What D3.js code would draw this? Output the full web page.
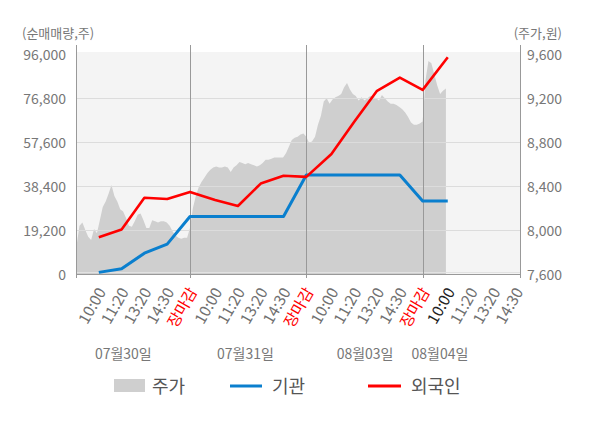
<!DOCTYPE html>
<html><head><meta charset="utf-8">
<script src="https://cdn.jsdelivr.net/npm/d3@7"></script>
<style>
body{margin:0;background:#fff}
svg{display:block}
text{font-family:"Noto Sans CJK KR","Noto Sans",sans-serif}
</style>
</head><body>
<svg id="c" width="600" height="428"></svg>
<script>
// ---------------- data ----------------
const dates = ['07월30일', '07월31일', '08월03일', '08월04일'];
const timeLabels = ['10:00', '11:20', '13:20', '14:30', '장마감'];
const volTicks = [0, 19200, 38400, 57600, 76800, 96000];
const priceTicks = [7600, 8000, 8400, 8800, 9200, 9600];

// 주가 (price) sampled 40 times per trading day
const priceDay1 = [7750, 7860, 8040, 8070, 8000, 7940, 7910, 8010, 7970, 8090, 8210, 8260, 8330, 8410, 8310, 8260, 8190, 8170, 8110, 8040, 8030, 8080, 8140, 8150, 8090, 8020, 8020, 8090, 8080, 8070, 8080, 8080, 8070, 8040, 7990, 7950, 7930, 7920, 7930, 7930, 8020];
const priceDay2 = [8200, 8310, 8390, 8440, 8480, 8520, 8550, 8570, 8580, 8570, 8570, 8580, 8570, 8530, 8570, 8590, 8620, 8610, 8600, 8610, 8600, 8590, 8580, 8590, 8610, 8640, 8640, 8650, 8660, 8660, 8660, 8660, 8700, 8760, 8820, 8840, 8850, 8870, 8880, 8850];
const priceDay3 = [8790, 8810, 8850, 8960, 9040, 9170, 9200, 9150, 9190, 9210, 9220, 9240, 9300, 9340, 9280, 9240, 9220, 9180, 9210, 9180, 9200, 9220, 9210, 9200, 9180, 9230, 9200, 9170, 9150, 9150, 9140, 9120, 9100, 9070, 9030, 8980, 8960, 8960, 8970, 8990];
const priceDay4 = [9370, 9540, 9520, 9420, 9320, 9240, 9270, 9290];

// 순매매량 at each time slot (10:00, 11:20, 13:20, 14:30, 장마감 ...)
const institution = [710, 2330, 9100, 13040, 25170, 25170, 25170, 25170, 25170, 43270, 43270, 43270, 43270, 43270, 31950, 31950];
const foreignVol = [16070, 19410, 33360, 32760, 35890, 32350, 29720, 39530, 42970, 42460, 52470, 66520, 80070, 85830, 80480, 94730];

const SAMPLES_PER_DAY = 40;

// ---------------- layout ----------------
const svg = d3.select('#c');
const L = 76, R = 520, T = 52, B = 274;
const x = d3.scaleLinear().domain([0.02, 3.837]).range([L, R]);
const yVol = d3.scaleLinear().domain([0, 96000]).range([B, 54.4]);
const yPrice = d3.scaleLinear().domain([7600, 9600]).range([B, 54.4]);

const price = [];
[priceDay1, priceDay2, priceDay3, priceDay4].forEach((arr, day) => {
  arr.forEach((v, i) => {
    const idx = day === 0 ? i : i + 1;
    price.push({ d: day + idx / SAMPLES_PER_DAY, v });
  });
});

const slots = [];
for (let day = 0; day < 4; day++) {
  for (let j = 0; j < 5; j++) {
    const d = day + 0.02 + 0.196 * (j + 1);
    if (d <= 3.837) slots.push({ day, j, d });
  }
}

svg.append('defs').append('clipPath').attr('id', 'plotClip')
  .append('rect').attr('x', L).attr('y', T).attr('width', R - L).attr('height', B - T);

// background
svg.append('rect').attr('x', L).attr('y', T).attr('width', R - L).attr('height', B - T).attr('fill', '#f4f4f4');

// price area
svg.append('path')
  .datum(price)
  .attr('clip-path', 'url(#plotClip)')
  .attr('fill', '#cfcfcf')
  .attr('d', d3.area().x(p => x(p.d)).y0(yPrice(7600)).y1(p => yPrice(p.v)));

// gridlines
svg.append('g').selectAll('line').data(volTicks.filter(v => v > 0 && v < 96000)).join('line')
  .attr('x1', L).attr('x2', R)
  .attr('y1', v => Math.round(yVol(v)) + 0.5).attr('y2', v => Math.round(yVol(v)) + 0.5)
  .attr('stroke', '#dcdcdc').attr('stroke-width', 1);

// bottom lines
svg.append('line').attr('x1', L).attr('x2', R).attr('y1', 272.5).attr('y2', 272.5).attr('stroke', '#e2e2e2');
svg.append('line').attr('x1', L).attr('x2', R).attr('y1', 274.5).attr('y2', 274.5).attr('stroke', '#999');

// vertical lines: axes and day separators
const vlines = [L, x(1), x(2), x(3), R];
svg.append('g').selectAll('line').data(vlines).join('line')
  .attr('x1', v => Math.round(v) + 0.5).attr('x2', v => Math.round(v) + 0.5)
  .attr('y1', 45).attr('y2', 278)
  .attr('stroke', '#999').attr('stroke-width', 1);

// series lines
const lineGen = d3.line().x((v, i) => x(slots[i].d)).y(v => yVol(v));
svg.append('path').datum(institution)
  .attr('fill', 'none').attr('stroke', '#0a7fce').attr('stroke-width', 3)
  .attr('stroke-linejoin', 'round').attr('d', lineGen);
svg.append('path').datum(foreignVol)
  .attr('fill', 'none').attr('stroke', '#ff0000').attr('stroke-width', 2.6)
  .attr('stroke-linejoin', 'round').attr('d', lineGen);

// left axis labels
const fmt = d3.format(',');
svg.append('g').selectAll('text').data(volTicks).join('text')
  .attr('x', 66).attr('y', v => yVol(v) + 5.5)
  .attr('text-anchor', 'end').attr('font-size', 14).attr('fill', '#777')
  .text(v => fmt(v));
// right axis labels
svg.append('g').selectAll('text').data(priceTicks).join('text')
  .attr('x', 527).attr('y', v => yPrice(v) + 5.5)
  .attr('text-anchor', 'start').attr('font-size', 14).attr('fill', '#777')
  .text(v => fmt(v));

// axis titles
svg.append('text').attr('x', 22).attr('y', 38).attr('font-size', 13).attr('fill', '#777').text('(순매매량,주)');
svg.append('text').attr('x', 562).attr('y', 38).attr('text-anchor', 'end').attr('font-size', 13).attr('fill', '#777').text('(주가,원)');

// x tick labels
svg.append('g').selectAll('text').data(slots).join('text')
  .attr('transform', s => `translate(${x(s.d) + 3},289) rotate(-60)`)
  .attr('text-anchor', 'end').attr('dy', '0.35em')
  .attr('font-size', 15.5)
  .attr('fill', s => s.j === 4 ? '#ff0000' : (s.day === 3 && s.j === 0 ? '#222' : '#707070'))
  .text(s => timeLabels[s.j]);

// date labels
const dateOffset = [0.427, 0.477, 0.505, 0.149];
svg.append('g').selectAll('text').data(dates).join('text')
  .attr('x', (t, i) => x(i + dateOffset[i])).attr('y', 359)
  .attr('text-anchor', 'middle').attr('font-size', 14).attr('fill', '#777')
  .text(t => t);

// legend
const lg = svg.append('g');
lg.append('rect').attr('x', 114).attr('y', 379).attr('width', 31).attr('height', 13).attr('fill', '#cfcfcf');
lg.append('text').attr('x', 152).attr('y', 392.5).attr('font-size', 18).attr('fill', '#555').text('주가');
lg.append('line').attr('x1', 230).attr('x2', 262).attr('y1', 386).attr('y2', 386).attr('stroke', '#0a7fce').attr('stroke-width', 3);
lg.append('text').attr('x', 272).attr('y', 392.5).attr('font-size', 18).attr('fill', '#555').text('기관');
lg.append('line').attr('x1', 368).attr('x2', 401).attr('y1', 386).attr('y2', 386).attr('stroke', '#ff0000').attr('stroke-width', 3);
lg.append('text').attr('x', 411).attr('y', 392.5).attr('font-size', 18).attr('fill', '#555').text('외국인');
</script>
</body></html>
